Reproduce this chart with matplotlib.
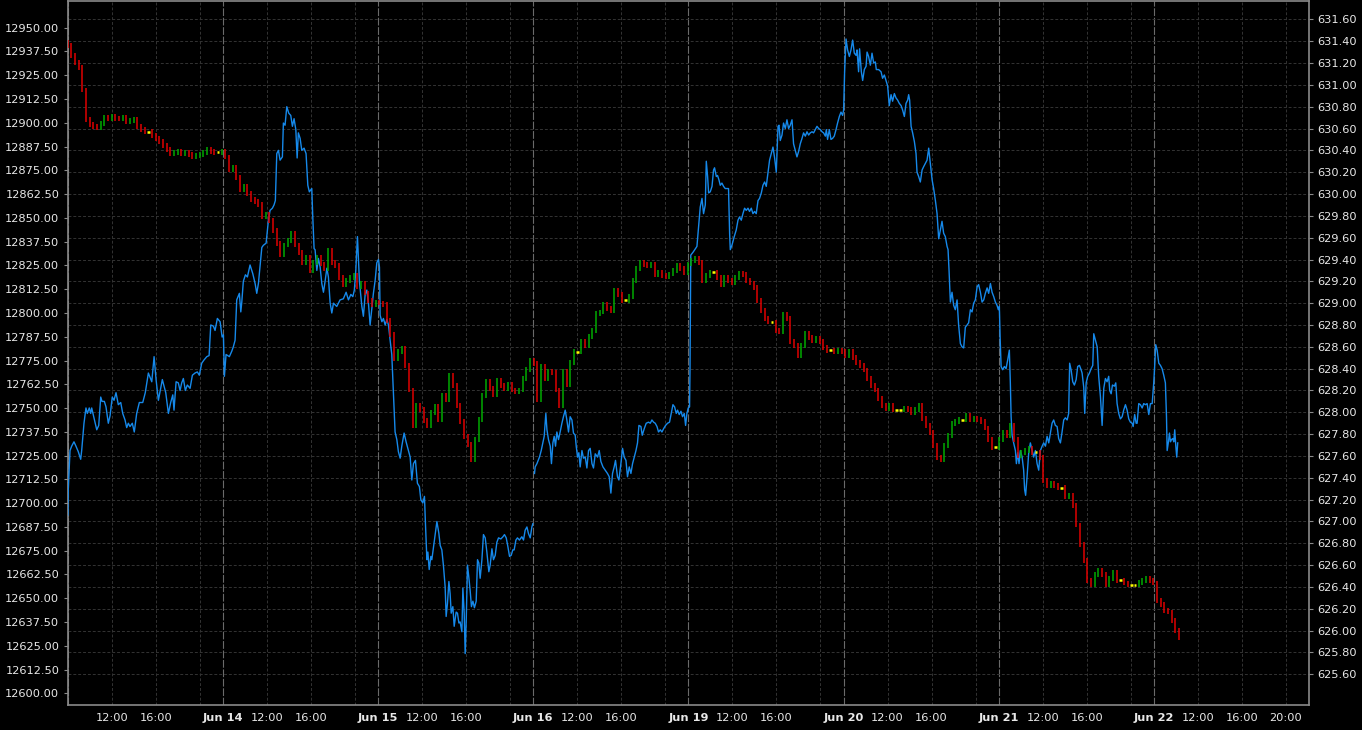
import matplotlib
matplotlib.use('Agg')
import matplotlib.pyplot as plt
import numpy as np

# trading sessions shown on the time axis (weekend skipped), each about 08:00 - 22:05
session_len = 14.1
day_names = ['Jun 13', 'Jun 14', 'Jun 15', 'Jun 16', 'Jun 19', 'Jun 20', 'Jun 21', 'Jun 22']
hour_offsets = [4, 8, 12]
hour_names = ['12:00', '16:00', '20:00']

left_ticks = np.arange(12600, 12950.1, 12.5)
right_ticks = np.arange(625.6, 631.61, 0.2)

# 20 minute bars, left scale (first bar starts at session open of Jun 13)
bar_minutes = 20
candle_first_open = 12942.0
candle_close = [
    12940.75, 12935.5, 12931.5, 12929, 12917.25, 12901.5, 12899.25, 12898.25, 12897.75, 12899.75,
    12903, 12902, 12903.5, 12902.5, 12902, 12903, 12900.5, 12901, 12902, 12898.25,
    12896.25, 12895.25, 12895.25, 12893.5, 12891.5, 12890, 12888, 12885.75, 12884, 12884.5,
    12885, 12884, 12884.5, 12883.5, 12882.5, 12883, 12883.5, 12884.5, 12885.75, 12885,
    12884.5, 12884.5, 12885, 12882, 12875.25, 12876.75, 12871, 12864.75, 12866.25, 12863,
    12859.5, 12858.75, 12857.25, 12850.5, 12852, 12848.75, 12843.5, 12836.75, 12830.5, 12835.75,
    12838.25, 12842, 12835.75, 12832, 12826.75, 12829, 12822.5, 12826.75, 12829, 12825.75,
    12823.5, 12833, 12826.75, 12824.75, 12818.5, 12814.75, 12817, 12818.5, 12819.5, 12813.75,
    12815.75, 12810.5, 12806.75, 12804.25, 12805.75, 12805.25, 12804.25, 12796.25, 12788.5, 12776.25,
    12779.5, 12781.5, 12772.5, 12759.5, 12741, 12751.5, 12749, 12743.25, 12741, 12747.75,
    12751, 12743.75, 12756.75, 12754.25, 12767.25, 12762, 12751.5, 12742.75, 12735.25, 12731,
    12722.75, 12733.25, 12743.75, 12756.75, 12763.75, 12760.5, 12757.25, 12764.75, 12762, 12760.5,
    12762.5, 12759.5, 12758.5, 12759.5, 12765.75, 12770.5, 12775.25, 12773.5, 12754.25, 12772,
    12765.75, 12769, 12768.5, 12759.5, 12751.5, 12769, 12762.5, 12774, 12779.5, 12779.5,
    12784.75, 12783, 12787.75, 12791, 12799.5, 12800.5, 12804.25, 12802.5, 12801.5, 12812,
    12809.5, 12806.75, 12806.75, 12808.75, 12817.25, 12823.5, 12826.75, 12825.25, 12824.75, 12825.75,
    12820, 12821.5, 12819.5, 12819, 12820.5, 12822.5, 12824.75, 12823.5, 12821.5, 12825.75,
    12827.75, 12828.75, 12826.75, 12817.25, 12819.5, 12821.5, 12821.5, 12818.5, 12814.75, 12818.5,
    12817.25, 12816.25, 12818.5, 12821, 12820, 12817.25, 12815.75, 12813.25, 12806.75, 12801.5,
    12797.25, 12795.25, 12795.25, 12791, 12790, 12799, 12797.25, 12784.75, 12783, 12777.75,
    12783, 12789, 12787.25, 12785.75, 12786.75, 12784.75, 12782, 12780.5, 12780.5, 12779.5,
    12780.5, 12779.5, 12777.75, 12779.5, 12776.75, 12774, 12772.5, 12770, 12765.75, 12762,
    12759.5, 12755.25, 12751.5, 12750, 12751.5, 12749, 12749, 12749, 12750, 12749,
    12747.75, 12749, 12751.5, 12744.75, 12741, 12737.25, 12730.5, 12723.75, 12722.75, 12730.5,
    12735.75, 12742, 12742.75, 12743.75, 12743.75, 12746.25, 12743.75, 12744.75, 12743.75, 12742.75,
    12739.5, 12733.25, 12729.5, 12729.5, 12733.25, 12737.25, 12735.75, 12741, 12733.25, 12725.25,
    12726.75, 12727.75, 12729, 12726.75, 12726.75, 12723.75, 12712, 12709.5, 12710.5, 12709.5,
    12708, 12708, 12703.25, 12704.25, 12699, 12688.5, 12678, 12670, 12659.5, 12657,
    12662.25, 12664.75, 12662.25, 12657, 12660.5, 12663.75, 12659.5, 12659.5, 12658, 12657,
    12657, 12657, 12658.5, 12659.5, 12660.25, 12659.5, 12658, 12649, 12646.5, 12643.75,
    12642.75, 12638.5, 12633.25, 12629.5,
]

# blue line, right scale; time in session hours since Jun 13 open (nan = break)
blue_hours = [
    0.02, 0.05, 0.21, 0.36, 0.57, 0.75, 0.96, 1.18, 1.27, 1.48,
    1.66, 1.78, 1.96, 2.09, 2.18, 2.39, 2.64, 2.82, 3.00, 3.12,
    3.33, 3.48, 3.69, 3.85, 4.05, 4.21, 4.39, 4.60, 4.82, 5.00,
    5.21, 5.36, 5.51, 5.66, 5.87, 6.05, 6.27, 6.51, 6.82, 7.05,
    7.33, 7.64, 7.85, 8.03, 8.24, 8.60, 8.91, 9.15, 9.36, 9.55,
    9.66, 9.85, 10.05, 10.21, 10.36, 10.51, 10.69, 10.87, 11.12, 11.33,
    11.57, 11.78, 11.96, 12.18, 12.39, 12.64, 12.85, 13.00, 13.24, 13.39,
    13.60, 13.85, 14.03, 14.15, 14.24, 14.39, 14.69, 14.91, 15.05, 15.21,
    15.36, 15.60, 15.73, 15.82, 15.96, 16.15, 16.33, 16.57, 16.82, 17.03,
    17.18, 17.33, 17.55, 17.64, 17.78, 18.03, 18.24, 18.39, 18.60, 18.75,
    18.87, 19.00, 19.15, 19.30, 19.51, 19.60, 19.75, 19.91, 20.09, 20.27,
    20.42, 20.57, 20.73, 20.85, 20.96, 21.12, 21.27, 21.48, 21.66, 21.82,
    21.96, 22.18, 22.27, 22.39, 22.48, 22.64, 22.78, 22.94, 23.09, 23.24,
    23.39, 23.55, 23.69, 23.85, 24.00, 24.15, 24.45, 24.75, 25.05, 25.30,
    25.51, 25.73, 25.91, 26.05, 26.18, 26.33, 26.51, 26.73, 26.87, 27.03,
    27.18, 27.33, 27.48, 27.64, 27.78, 27.94, 28.09, 28.24, 28.33, 28.39,
    28.55, 28.69, 28.85, 29.00, 29.15, 29.30, 29.45, 29.60, 29.75, 29.91,
    30.05, 30.21, 30.36, 30.57, 30.75, 30.96, 31.12, 31.27, 31.42, 31.60,
    31.78, 31.96, 32.09, 32.27, 32.42, 32.51, 32.64, 32.73, 32.85, 33.00,
    33.09, 33.30, 33.39, 33.55, 33.73, 33.85, 34.00, 34.15, 34.30, 34.39,
    34.51, 34.64, 34.75, 34.85, 35.00, 35.12, 35.30, 35.42, 35.55, 35.66,
    35.82, 35.91, 36.03, 36.12, 36.21, 36.33, 36.45, 36.57, 36.69, 36.82,
    36.96, 37.12, 37.24, 37.36, 37.48, 37.64, 37.78, 37.94, 38.09, 38.27,
    38.39, 38.55, 38.69, 38.85, 39.00, 39.15, 39.36, 39.55, 39.69, 39.85,
    40.00, 40.15, 40.30, 40.45, 40.57, 40.73, 40.87, 41.05, 41.27, 41.42,
    41.57, 41.73, 41.87, 42.03, 42.18, 42.27,
    42.35,
    42.42, 42.48, 42.64, 42.87,
    43.03, 43.18, 43.30, 43.45, 43.55, 43.69, 43.85, 43.96, 44.09, 44.21,
    44.33, 44.45, 44.60, 44.75, 44.91, 45.05, 45.21, 45.36, 45.51, 45.66,
    45.82, 45.96, 46.12, 46.21, 46.33, 46.45, 46.57, 46.73, 46.87, 47.03,
    47.18, 47.33, 47.48, 47.64, 47.78, 47.94, 48.15, 48.30, 48.45, 48.64,
    48.85, 49.05, 49.21, 49.36, 49.51, 49.66, 49.78, 49.96, 50.09, 50.27,
    50.42, 50.57, 50.73, 50.87, 51.03, 51.18, 51.33, 51.48, 51.64, 51.78,
    51.91, 52.09, 52.21, 52.39, 52.57, 52.78, 52.94, 53.09, 53.24, 53.39,
    53.55, 53.69, 53.85, 54.00, 54.15, 54.33, 54.51, 54.69, 54.85, 55.00,
    55.15, 55.30, 55.42, 55.57, 55.73, 55.87, 56.03, 56.15, 56.27, 56.39,
    56.51, 56.55, 56.62, 56.85, 57.05, 57.18, 57.33, 57.48, 57.64, 57.78,
    57.94, 58.03, 58.15, 58.24, 58.39, 58.55, 58.69, 58.78, 58.94, 59.05,
    59.18, 59.30, 59.45, 59.60, 59.75, 60.05, 60.15, 60.21, 60.36, 60.57,
    60.75, 60.91, 61.05, 61.21, 61.36, 61.51, 61.66, 61.82, 61.96, 62.12,
    62.27, 62.42, 62.57, 62.73, 62.87, 63.03, 63.18, 63.33, 63.48, 63.64,
    63.78, 63.94, 64.09, 64.24, 64.39, 64.55, 64.64, 64.75, 64.91, 65.05,
    65.21, 65.36, 65.51, 65.66, 65.82, 65.96, 66.12, 66.27, 66.42, 66.57,
    66.73, 66.87, 67.03, 67.18, 67.33, 67.48, 67.64, 67.78, 67.94, 68.09,
    68.24, 68.39, 68.55, 68.69, 68.85, 68.94, 69.05, 69.21, 69.36, 69.51,
    69.66, 69.82, 69.96, 70.12, 70.27, 70.42, 70.51, 70.60, 70.73, 70.87,
    71.03, 71.18, 71.33, 71.48, 71.64, 71.73, 71.87, 71.96, 72.12, 72.24,
    72.39, 72.55, 72.64, 72.78, 72.94, 73.09, 73.24, 73.39, 73.48, 73.69,
    73.91, 74.05, 74.21, 74.36, 74.51, 74.66, 74.82, 74.96, 75.12, 75.27,
    75.42, 75.57, 75.73, 75.87, 76.03, 76.18, 76.33, 76.42, 76.51, 76.64,
    76.78, 76.94, 77.09, 77.18, 77.33, 77.48, 77.64, 77.78, 77.94, 78.09,
    78.24, 78.39, 78.55, 78.69, 78.85, 79.00, 79.15, 79.30, 79.45, 79.60,
    79.75, 79.91, 80.00, 80.09, 80.21, 80.36, 80.51, 80.66, 80.82, 80.96,
    81.12, 81.27, 81.42, 81.57, 81.73, 81.87, 82.03, 82.18, 82.33, 82.48,
    82.64, 82.78, 82.94, 83.09, 83.24, 83.39, 83.55, 83.69, 83.85, 84.00,
    84.15, 84.30, 84.45, 84.57, 84.66, 84.73, 84.82, 84.96, 85.12, 85.27,
    85.42, 85.57, 85.66, 85.73, 85.82, 85.96, 86.12, 86.21, 86.33, 86.45,
    86.57, 86.73, 86.87, 86.96, 87.05, 87.18, 87.33, 87.48, 87.64, 87.78,
    87.94, 88.09, 88.24, 88.39, 88.55, 88.69, 88.85, 89.00, 89.15, 89.30,
    89.45, 89.60, 89.75, 89.91, 90.05, 90.21, 90.36, 90.51, 90.66, 90.82,
    90.96, 91.05, 91.18, 91.33, 91.48, 91.64, 91.78, 91.94, 92.09, 92.18,
    92.33, 92.42, 92.55, 92.69, 92.85, 93.00, 93.15, 93.24, 93.39, 93.55,
    93.69, 93.85, 94.00, 94.15, 94.30, 94.45, 94.60, 94.69, 94.82, 94.94,
    95.12, 95.24, 95.36, 95.51, 95.66, 95.82, 95.96, 96.12, 96.27, 96.42,
    96.57, 96.73, 96.82, 96.96, 97.09, 97.18, 97.33, 97.48, 97.64, 97.78,
    97.94, 98.09, 98.24, 98.39, 98.55, 98.69, 98.78, 98.87, 99.00, 99.15,
    99.30, 99.45, 99.60, 99.75, 99.85, 99.91, 100.03, 100.12, 100.21, 100.30,
    100.42, 100.51, 100.60, 100.69, 100.78, 100.87,
]
nan = float('nan')
blue_price = [
    627.06, 627.29, 627.65, 627.69, 627.73, 627.69, 627.64, 627.57, 627.65, 627.90,
    628.04, 627.99, 628.04, 627.99, 628.04, 627.95, 627.84, 627.88, 628.14, 628.10,
    628.10, 628.05, 627.90, 627.97, 628.14, 628.11, 628.18, 628.07, 628.09, 627.99,
    627.93, 627.86, 627.90, 627.87, 627.90, 627.82, 627.99, 628.09, 628.09, 628.18,
    628.36, 628.28, 628.51, 628.30, 628.11, 628.30, 628.18, 627.99, 628.09, 628.16,
    628.02, 628.28, 628.27, 628.20, 628.27, 628.31, 628.20, 628.25, 628.22, 628.34,
    628.36, 628.37, 628.34, 628.45, 628.48, 628.51, 628.52, 628.80, 628.79, 628.75,
    628.86, 628.83, 628.69, 628.71, 628.33, 628.53, 628.51, 628.56, 628.60, 628.66,
    629.03, 629.09, 628.92, 629.01, 629.20, 629.26, 629.24, 629.35, 629.27, 629.18,
    629.09, 629.18, 629.41, 629.51, 629.53, 629.55, 629.76, 629.85, 629.87, 629.90,
    629.94, 630.37, 630.40, 630.31, 630.34, 630.65, 630.63, 630.80, 630.74, 630.72,
    630.62, 630.69, 630.59, 630.33, 630.56, 630.51, 630.40, 630.42, 630.37, 630.08,
    630.02, 630.05, 629.79, 629.50, 629.49, 629.30, 629.41, 629.33, 629.18, 629.10,
    629.20, 629.32, 629.24, 629.00, 628.91, 629.00, 628.97, 629.03, 629.04, 629.10,
    629.03, 629.08, 629.06, 629.12, 629.30, 629.61, 629.20, 628.97, 628.88, 629.08,
    629.12, 629.00, 628.80, 628.95, 629.09, 629.21, 629.37, 629.40, 629.33, 628.89,
    628.83, 628.86, 628.80, 628.85, 628.80, 628.66, 628.53, 628.18, 627.82, 627.75,
    627.64, 627.58, 627.69, 627.81, 627.73, 627.65, 627.59, 627.38, 627.53, 627.56,
    627.35, 627.32, 627.20, 627.17, 627.23, 626.98, 626.65, 626.72, 626.56, 626.68,
    626.65, 626.81, 626.88, 627.00, 626.89, 626.78, 626.74, 626.59, 626.40, 626.13,
    626.25, 626.45, 626.34, 626.16, 626.22, 626.04, 626.17, 626.16, 626.07, 626.08,
    625.99, 626.39, 626.16, 625.79, 626.07, 626.60, 626.49, 626.37, 626.22, 626.27,
    626.21, 626.27, 626.65, 626.62, 626.48, 626.65, 626.88, 626.85, 626.72, 626.54,
    626.60, 626.75, 626.65, 626.69, 626.81, 626.85, 626.84, 626.86, 626.88, 626.85,
    626.77, 626.68, 626.69, 626.74, 626.74, 626.83, 626.85, 626.83, 626.86, 626.83,
    626.92, 626.95, 626.89, 626.85, 626.95, 626.98,
    nan,
    627.44, 627.50, 627.53, 627.59,
    627.65, 627.72, 627.78, 627.99, 627.84, 627.75, 627.69, 627.53, 627.72, 627.78,
    627.69, 627.82, 627.75, 627.82, 627.90, 627.96, 628.02, 627.93, 627.82, 627.96,
    627.93, 627.81, 627.79, 627.69, 627.59, 627.63, 627.50, 627.65, 627.58, 627.59,
    627.49, 627.65, 627.67, 627.53, 627.49, 627.62, 627.59, 627.65, 627.55, 627.50,
    627.47, 627.44, 627.41, 627.26, 627.44, 627.50, 627.56, 627.41, 627.38, 627.53,
    627.67, 627.59, 627.56, 627.41, 627.50, 627.44, 627.53, 627.59, 627.65, 627.72,
    627.88, 627.87, 627.79, 627.85, 627.90, 627.91, 627.90, 627.93, 627.91, 627.90,
    627.87, 627.82, 627.84, 627.82, 627.85, 627.88, 627.90, 627.91, 627.99, 628.07,
    628.05, 627.99, 628.02, 627.98, 628.01, 627.96, 627.99, 627.88, 627.99, 628.04,
    628.05, 628.39, 629.44, 629.47, 629.50, 629.52, 629.70, 629.88, 629.96, 629.82,
    629.90, 630.30, 630.16, 630.01, 630.02, 630.07, 630.22, 630.24, 630.16, 630.17,
    630.13, 630.08, 630.10, 630.07, 630.05, 630.05, 629.64, 629.49, 629.53, 629.61,
    629.67, 629.76, 629.79, 629.76, 629.82, 629.87, 629.85, 629.87, 629.84, 629.87,
    629.82, 629.84, 629.82, 629.94, 629.96, 630.01, 630.08, 630.11, 630.07, 630.20,
    630.31, 630.37, 630.43, 630.33, 630.20, 630.62, 630.63, 630.49, 630.54, 630.65,
    630.60, 630.68, 630.60, 630.63, 630.68, 630.46, 630.40, 630.34, 630.39, 630.46,
    630.51, 630.56, 630.53, 630.57, 630.54, 630.56, 630.57, 630.56, 630.59, 630.62,
    630.60, 630.59, 630.57, 630.56, 630.53, 630.59, 630.50, 630.59, 630.50, 630.51,
    630.53, 630.59, 630.65, 630.71, 630.75, 630.72, 630.77, 631.12, 631.42, 631.32,
    631.26, 631.32, 631.41, 631.29, 631.27, 631.32, 631.12, 631.33, 631.12, 631.04,
    631.14, 631.17, 631.30, 631.26, 631.18, 631.29, 631.20, 631.21, 631.14, 631.14,
    631.12, 631.06, 631.09, 631.04, 630.99, 630.81, 630.91, 630.85, 630.92, 630.88,
    630.86, 630.83, 630.81, 630.77, 630.71, 630.83, 630.86, 630.91, 630.86, 630.62,
    630.56, 630.48, 630.37, 630.20, 630.16, 630.11, 630.22, 630.25, 630.28, 630.31,
    630.42, 630.28, 630.13, 630.05, 629.94, 629.82, 629.59, 629.67, 629.75, 629.64,
    629.61, 629.52, 629.49, 629.30, 629.01, 629.10, 628.98, 628.94, 629.03, 628.80,
    628.63, 628.60, 628.59, 628.78, 628.80, 628.82, 628.94, 628.92, 629.00, 629.03,
    629.15, 629.17, 629.10, 629.01, 629.03, 629.09, 629.14, 629.09, 629.18, 629.10,
    629.06, 629.01, 628.98, 628.94, 628.97, 628.69, 628.42, 628.39, 628.42, 628.40,
    628.48, 628.57, 628.27, 627.96, 627.79, 627.72, 627.65, 627.53, 627.63, 627.53,
    627.65, 627.59, 627.47, 627.29, 627.24, 627.41, 627.63, 627.72, 627.65, 627.59,
    627.65, 627.53, 627.47, 627.65, 627.69, 627.72, 627.69, 627.78, 627.72, 627.81,
    627.90, 627.93, 627.88, 627.87, 627.76, 627.72, 627.82, 627.93, 627.95, 627.93,
    627.99, 628.45, 628.39, 628.28, 628.25, 628.30, 628.42, 628.43, 628.39, 628.36,
    628.23, 627.99, 628.27, 628.33, 628.36, 628.40, 628.43, 628.72, 628.66, 628.60,
    628.33, 628.14, 627.88, 628.22, 628.31, 628.28, 628.33, 628.20, 628.17, 628.25,
    628.24, 628.27, 628.08, 627.99, 627.94, 627.96, 628.02, 628.07, 628.02, 627.94,
    627.91, 627.90, 627.87, 627.98, 627.90, 627.90, 628.08, 628.07, 628.04, 628.08,
    628.07, 628.08, 627.98, 628.08, 628.08, 628.27, 628.43, 628.62, 628.57, 628.45,
    628.43, 628.40, 628.34, 628.27, 627.96, 627.65, 627.73, 627.81, 627.73, 627.75,
    627.76, 627.73, 627.84, 627.70, 627.59, 627.72,
]

fig = plt.figure(figsize=(13.62, 7.30), dpi=100, facecolor='black')
rect = [67.7 / 1362, 1 - 705 / 730, (1309 - 67.7) / 1362, 704 / 730]

# right scale axes: blue line and all grid lines
ax = fig.add_axes(rect)
ax.set_facecolor('black')
ax.plot(blue_hours, blue_price, color='#1689ea', lw=1.0, zorder=3)
ax.set_xlim(0, len(day_names) * session_len)
ax.set_ylim(625.319, 631.768)
ax.yaxis.tick_right()
ax.set_yticks(right_ticks)
ax.set_yticklabels([f'{v:.2f}' for v in right_ticks])

major = [k * session_len for k in range(len(day_names))]
minor = [k * session_len + h for k in range(len(day_names)) for h in hour_offsets]
minor_labels = []
for k in range(len(day_names)):
    for h, name in zip(hour_offsets, hour_names):
        # the 20:00 label would run into the next day's label
        minor_labels.append(name if (h != 12 or k == len(day_names) - 1) else '')
ax.set_xticks(major)
ax.set_xticklabels([''] + day_names[1:], fontweight='bold')
ax.set_xticks(minor, minor=True)
ax.set_xticklabels(minor_labels, minor=True)

ax.grid(which='major', axis='x', color='#6a6a6a', lw=0.8, ls=(0, (7, 1.5)))
ax.grid(which='minor', axis='x', color='#333333', lw=0.7, ls=(0, (3, 2)))
ax.grid(which='major', axis='y', color='#333333', lw=0.7, ls=(0, (3, 2)))

for s in ax.spines.values():
    s.set_color('#8a8a8a')
    s.set_linewidth(1.2)
ax.tick_params(axis='y', direction='out', length=3, width=0.8, color='#8a8a8a',
               labelcolor='#e8e8e8', labelsize=8.2, pad=3)
ax.tick_params(axis='x', which='both', length=0, pad=6, labelcolor='#e8e8e8', labelsize=8.2)

# left scale axes: coloured bars
axl = fig.add_axes(rect, sharex=ax, facecolor='none')
axl.set_ylim(12593.85, 12964.04)
axl.yaxis.tick_left()
axl.set_yticks(left_ticks)
axl.set_yticklabels([f'{v:.2f}' for v in left_ticks])
axl.xaxis.set_visible(False)
for s in axl.spines.values():
    s.set_visible(False)
axl.tick_params(axis='y', direction='out', length=3, width=0.8, color='#8a8a8a',
                labelcolor='#e8e8e8', labelsize=8.2, pad=3)

closes = np.array(candle_close)
opens = np.r_[candle_first_open, closes[:-1]]
bar_t = np.arange(len(closes)) * bar_minutes / 60
up = closes > opens
down = closes < opens
flat = ~(up | down)
pad = 1.3
axl.vlines(bar_t[up], opens[up] - pad, closes[up] + pad, color='#00aa00', lw=1.1)
axl.vlines(bar_t[down], closes[down] - pad, opens[down] + pad, color='#e00000', lw=1.1)
axl.hlines(closes[flat], bar_t[flat] - 0.12, bar_t[flat] + 0.12, color='#ffff00', lw=1.8)

fig.savefig('out.png', dpi=100, facecolor='black')
